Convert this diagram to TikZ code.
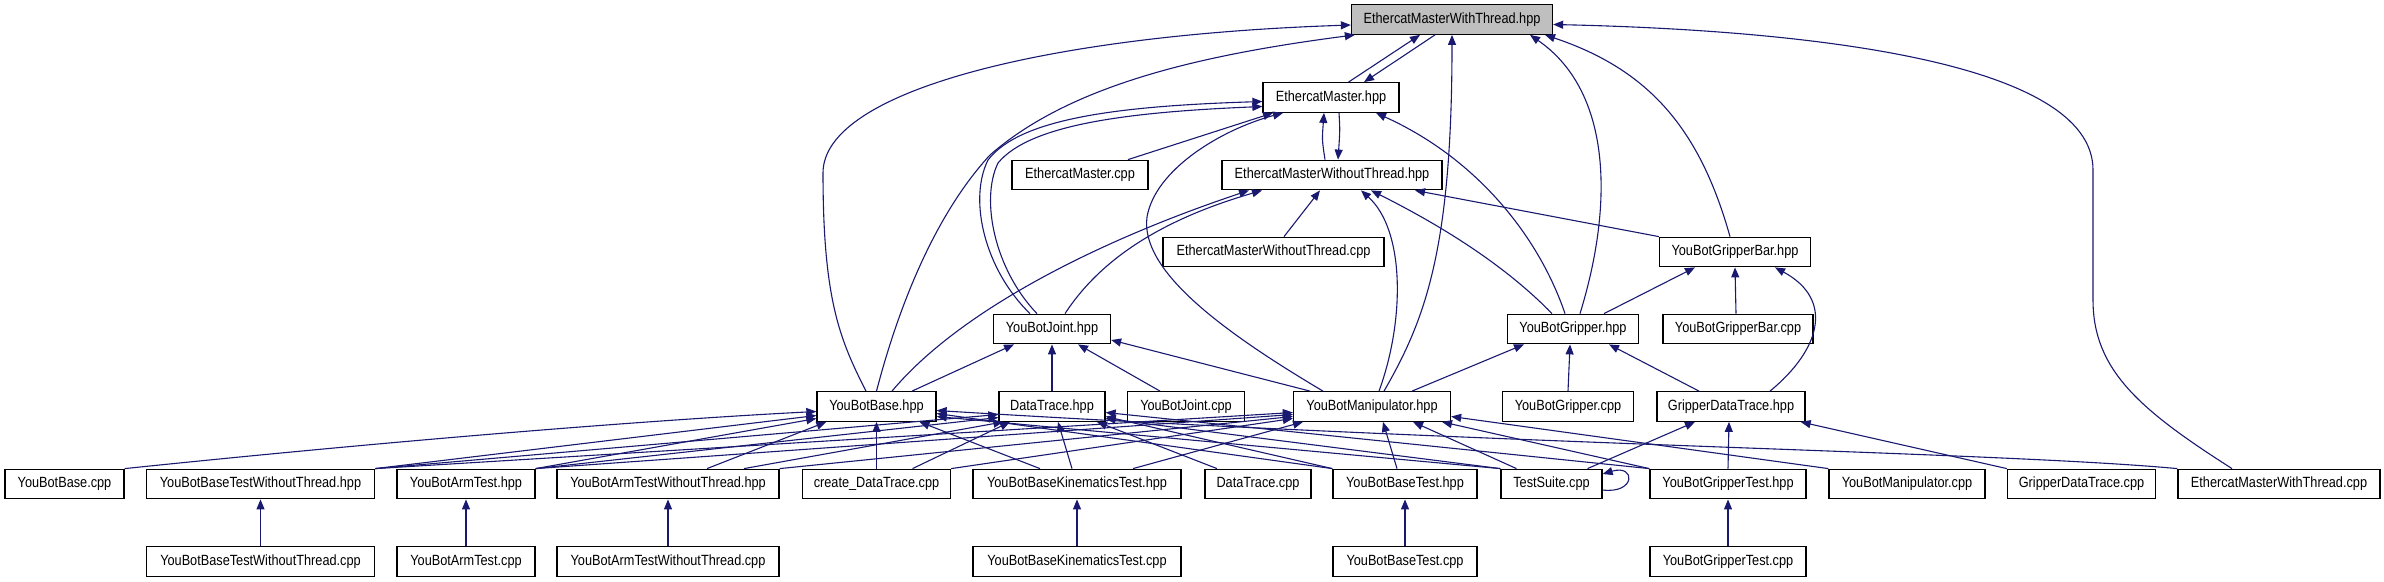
\documentclass[tikz,border=0pt]{standalone}
\usepackage{fontspec}
\setmainfont[FakeStretch=0.86]{Liberation Sans}
\usetikzlibrary{arrows.meta,calc}
\definecolor{edgecol}{HTML}{191970}
\begin{document}
\begin{tikzpicture}[x=1pt,y=-1pt,
  fbox/.style={draw=black,line width=1.3pt,fill=white,inner sep=0pt,minimum height=29.5pt,
    font=\fontsize{14.8pt}{17pt}\selectfont},
  rootbox/.style={fbox,fill=black!25},
  dep/.style={draw=edgecol,line width=1.1pt,-{Triangle[length=10pt,width=8pt]}}]
\useasboundingbox (0,0) rectangle (2384,581);
% row 0-2
\node[rootbox,minimum width=201pt] (emwth) at (1452,19.5) {EthercatMasterWithThread.hpp};
\node[fbox,minimum width=136pt] (emh) at (1331,97.5) {EthercatMaster.hpp};
\node[fbox,minimum width=136pt] (emcpp) at (1080,175) {EthercatMaster.cpp};
\node[fbox,minimum width=220pt] (emwoh) at (1332,175) {EthercatMasterWithoutThread.hpp};
\node[fbox,minimum width=221pt] (emwocpp) at (1273.5,252) {EthercatMasterWithoutThread.cpp};
\node[fbox,minimum width=151pt] (gbarh) at (1735,252) {YouBotGripperBar.hpp};
% row 3
\node[fbox,minimum width=117pt] (jointh) at (1052,329) {YouBotJoint.hpp};
\node[fbox,minimum width=131pt] (gripperh) at (1573,329) {YouBotGripper.hpp};
\node[fbox,minimum width=150pt] (gbarcpp) at (1738,329) {YouBotGripperBar.cpp};
% row 4
\node[fbox,minimum width=119pt] (baseh) at (876.5,406.5) {YouBotBase.hpp};
\node[fbox,minimum width=106pt] (dtraceh) at (1052,406.5) {DataTrace.hpp};
\node[fbox,minimum width=117pt] (jointcpp) at (1186,406.5) {YouBotJoint.cpp};
\node[fbox,minimum width=157pt] (maniph) at (1372,406.5) {YouBotManipulator.hpp};
\node[fbox,minimum width=131pt] (grippercpp) at (1568,406.5) {YouBotGripper.cpp};
\node[fbox,minimum width=148pt] (gdth) at (1731,406.5) {GripperDataTrace.hpp};
% row 5
\node[fbox,minimum width=119pt] (basecpp) at (64.5,484) {YouBotBase.cpp};
\node[fbox,minimum width=228pt] (bbtwoh) at (260.5,484) {YouBotBaseTestWithoutThread.hpp};
\node[fbox,minimum width=138pt] (armth) at (466,484) {YouBotArmTest.hpp};
\node[fbox,minimum width=222pt] (armtwoh) at (668,484) {YouBotArmTestWithoutThread.hpp};
\node[fbox,minimum width=148pt] (cdtcpp) at (876.5,484) {create\_DataTrace.cpp};
\node[fbox,minimum width=208pt] (bbkth) at (1077,484) {YouBotBaseKinematicsTest.hpp};
\node[fbox,minimum width=106pt] (dtcpp) at (1258,484) {DataTrace.cpp};
\node[fbox,minimum width=144pt] (bbth) at (1405,484) {YouBotBaseTest.hpp};
\node[fbox,minimum width=101pt] (tscpp) at (1551.5,484) {TestSuite.cpp};
\node[fbox,minimum width=156pt] (gth) at (1728,484) {YouBotGripperTest.hpp};
\node[fbox,minimum width=156pt] (manipcpp) at (1907,484) {YouBotManipulator.cpp};
\node[fbox,minimum width=148pt] (gdtcpp) at (2081.5,484) {GripperDataTrace.cpp};
\node[fbox,minimum width=202pt] (emwtcpp) at (2279,484) {EthercatMasterWithThread.cpp};
% row 6
\node[fbox,minimum width=228pt] (bbtwocpp) at (260.5,561.5) {YouBotBaseTestWithoutThread.cpp};
\node[fbox,minimum width=138pt] (armtcpp) at (466,561.5) {YouBotArmTest.cpp};
\node[fbox,minimum width=222pt] (armtwocpp) at (668,561.5) {YouBotArmTestWithoutThread.cpp};
\node[fbox,minimum width=208pt] (bbktcpp) at (1077,561.5) {YouBotBaseKinematicsTest.cpp};
\node[fbox,minimum width=144pt] (bbtcpp) at (1405,561.5) {YouBotBaseTest.cpp};
\node[fbox,minimum width=156pt] (gtcpp) at (1728,561.5) {YouBotGripperTest.cpp};

% ---- top part
\draw[dep] ($(emh.north)+(17.5,0)$) -- ($(emwth.south)+(-32,0)$);
\draw[dep] ($(emwth.south)+(-17,0)$) -- ($(emh.north)+(33,0)$);
\draw[dep] ($(baseh.north)+(-10.5,0)$) .. controls (840,340) and (823,300) .. (823,173)
  .. controls (823,90) and (1050,35) .. ($(emwth.west)+(0,5.5)$);
\draw[dep] (baseh.north) .. controls (895,320) and (930,220) .. (990,155)
  .. controls (1070,85) and (1200,55) .. ($(emwth.south west)+(4,0)$);
\draw[dep] ($(jointh.north)+(-22,0)$) .. controls (985,270) and (968,200) .. (988,160)
  .. controls (1020,118) and (1120,106) .. ($(emh.west)+(0,4)$);
\draw[dep] ($(jointh.north)+(-15,0)$) .. controls (995,270) and (980,200) .. (998,163)
  .. controls (1030,124) and (1130,112) .. ($(emh.west)+(0,9)$);
\draw[dep] ($(emcpp.north)+(48,0)$) -- ($(emh.south)+(-58,0)$);
\draw[dep] ($(maniph.north)+(-49,0)$) .. controls (1220,330) and (1140,270) .. (1147,217)
  .. controls (1155,170) and (1220,130) .. ($(emh.south)+(-48,0)$);
\draw[dep] ($(emwoh.north)+(-7,0)$) .. controls (1322,140) .. ($(emh.south)+(-7,0)$);
\draw[dep] ($(emh.south)+(8,0)$) .. controls (1340,130) .. ($(emwoh.north)+(6,0)$);
\draw[dep] ($(gripperh.north)+(-8,0)$) .. controls (1540,240) and (1480,160) .. ($(emh.south)+(45,0)$);
\draw[dep] ($(gripperh.north)+(7,0)$) .. controls (1615,200) and (1610,90) .. ($(emwth.south)+(78,0)$);
\draw[dep] ($(gbarh.north)+(-5,0)$) .. controls (1700,130) and (1650,70) .. ($(emwth.south)+(93,0)$);
\draw[dep] ($(emwtcpp.north)+(-47,0)$) .. controls (2140,410) and (2093,370) .. (2093,300) -- (2093,170)
  .. controls (2093,60) and (1800,30) .. ($(emwth.east)+(0,5)$);
\draw[dep] ($(maniph.north)+(12,0)$) .. controls (1425,320) and (1452,250) .. (emwth.south);
\draw[dep] ($(emwocpp.north)+(10.5,0)$) -- ($(emwoh.south)+(-12,0)$);
\draw[dep] ($(baseh.north)+(15.5,0)$) .. controls (960,310) and (1100,240) .. ($(emwoh.south)+(-83,0)$);
\draw[dep] ($(jointh.north)+(13,0)$) .. controls (1100,260) and (1160,220) .. ($(emwoh.south)+(-70,0)$);
\draw[dep] ($(maniph.north)+(7,0)$) .. controls (1405,320) and (1405,230) .. ($(emwoh.south)+(29,0)$);
\draw[dep] ($(gripperh.north)+(-21,0)$) .. controls (1500,260) and (1430,220) .. ($(emwoh.south)+(39,0)$);
\draw[dep] (gbarh.north west) -- ($(emwoh.south)+(83,0)$);
% ---- middle
\draw[dep] ($(baseh.north)+(35.5,0)$) -- ($(jointh.south)+(-38,0)$);
\draw[dep] (dtraceh.north) -- (jointh.south);
\draw[dep] ($(jointcpp.north)+(-26,0)$) -- ($(jointh.south)+(26,0)$);
\draw[dep] ($(maniph.north)+(-62,0)$) -- ($(jointh.east)+(0,11)$);
\draw[dep] ($(maniph.north)+(40,0)$) -- ($(gripperh.south)+(-49,0)$);
\draw[dep] (grippercpp.north) -- ($(gripperh.south)+(-3,0)$);
\draw[dep] ($(gdth.north)+(-32,0)$) -- ($(gripperh.south)+(36,0)$);
\draw[dep] ($(gdth.north)+(39,0)$) .. controls (1820,350) and (1835,300) .. ($(gbarh.south)+(40,0)$);
\draw[dep] ($(gripperh.north)+(31,0)$) -- ($(gbarh.south)+(-40,0)$);
\draw[dep] ($(gbarcpp.north)+(-2,0)$) -- (gbarh.south);
% ---- bottom: into YouBotBase.hpp
\draw[dep] (basecpp.north east) .. controls (400,440) and (650,420) .. ($(baseh.west)+(0,5)$);
\draw[dep] (bbtwoh.north east) -- ($(baseh.west)+(0,9)$);
\draw[dep] (armth.north east) -- ($(baseh.west)+(0,12)$);
\draw[dep] ($(armtwoh.north)+(39,0)$) -- ($(baseh.south west)+(10,0)$);
\draw[dep] (cdtcpp.north) -- (baseh.south);
\draw[dep] ($(bbkth.north)+(-37,0)$) -- ($(baseh.south)+(43,0)$);
\draw[dep] (bbth.north west) -- ($(baseh.east)+(0,7)$);
\draw[dep] (tscpp.north west) -- ($(baseh.east)+(0,10)$);
\draw[dep] (emwtcpp.north west) .. controls (2000,452) and (1500,445) .. ($(baseh.east)+(0,4)$);
% into DataTrace.hpp
\draw[dep] (bbtwoh.north east) -- ($(dtraceh.west)+(0,8)$);
\draw[dep] (armth.north east) -- ($(dtraceh.west)+(0,11)$);
\draw[dep] ($(armtwoh.north)+(76,0)$) -- ($(dtraceh.south west)+(5,0)$);
\draw[dep] ($(cdtcpp.north)+(36,0)$) -- ($(dtraceh.south)+(-42,0)$);
\draw[dep] ($(bbkth.north)+(-5,0)$) -- ($(dtraceh.south)+(6,0)$);
\draw[dep] ($(dtcpp.north)+(-41,0)$) -- ($(dtraceh.south)+(45,0)$);
\draw[dep] (bbth.north west) -- ($(dtraceh.east)+(0,10)$);
\draw[dep] (tscpp.north west) -- ($(dtraceh.east)+(0,12)$);
\draw[dep] (gth.north west) -- ($(dtraceh.east)+(0,6)$);
% into YouBotManipulator.hpp
\draw[dep] (bbtwoh.north east) -- ($(maniph.west)+(0,6)$);
\draw[dep] (armth.north east) -- ($(maniph.west)+(0,8)$);
\draw[dep] (armtwoh.north east) -- ($(maniph.west)+(0,10)$);
\draw[dep] (cdtcpp.north east) -- ($(maniph.west)+(0,12)$);
\draw[dep] ($(bbkth.north)+(56,0)$) -- ($(maniph.south)+(-69,0)$);
\draw[dep] ($(bbth.north)+(-8,0)$) -- ($(maniph.south)+(11,0)$);
\draw[dep] ($(tscpp.north)+(-35,0)$) -- ($(maniph.south)+(41,0)$);
\draw[dep] (gth.north west) -- ($(maniph.south)+(70,0)$);
\draw[dep] (manipcpp.north west) -- ($(maniph.east)+(0,10)$);
% into GripperDataTrace.hpp
\draw[dep] ($(tscpp.north)+(36,0)$) -- ($(gdth.south)+(-36,0)$);
\draw[dep] (gth.north) -- ($(gdth.south)+(-2,0)$);
\draw[dep] (gdtcpp.north west) -- ($(gdth.south east)+(-5,0)$);
% self loop
\draw[dep] ($(tscpp.east)+(0,6)$) .. controls (1636,494) and (1636,464) .. ($(tscpp.east)+(0,-10)$);
% bottom row
\draw[dep] (bbtwocpp.north) -- (bbtwoh.south);
\draw[dep] (armtcpp.north) -- (armth.south);
\draw[dep] (armtwocpp.north) -- (armtwoh.south);
\draw[dep] (bbktcpp.north) -- (bbkth.south);
\draw[dep] (bbtcpp.north) -- (bbth.south);
\draw[dep] (gtcpp.north) -- (gth.south);
\end{tikzpicture}
\end{document}
